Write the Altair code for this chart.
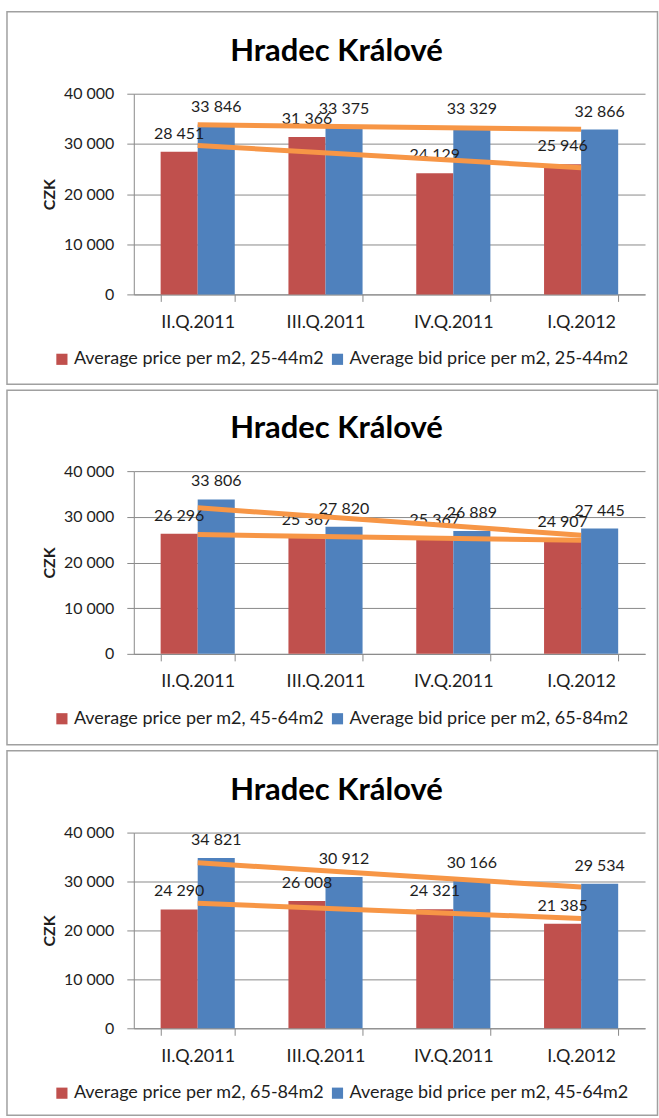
import altair as alt
import numpy as np
import pandas as pd

# ---- data -----------------------------------------------------------------
QUARTERS = ["II.Q.2011", "III.Q.2011", "IV.Q.2011", "I.Q.2012"]
TITLE = "Hradec Králové"
Y_TITLE = "CZK"
Y_TICKS = [0, 10000, 20000, 30000, 40000]

P1_RED_NAME = "Average price per m2, 25-44m2"
P1_BLUE_NAME = "Average bid price per m2, 25-44m2"
P1_RED = [28451, 31366, 24129, 25946]
P1_BLUE = [33846, 33375, 33329, 32866]

P2_RED_NAME = "Average price per m2, 45-64m2"
P2_BLUE_NAME = "Average bid price per m2, 65-84m2"
P2_RED = [26296, 25367, 25367, 24907]
P2_BLUE = [33806, 27820, 26889, 27445]

P3_RED_NAME = "Average price per m2, 65-84m2"
P3_BLUE_NAME = "Average bid price per m2, 45-64m2"
P3_RED = [24290, 26008, 24321, 21385]
P3_BLUE = [34821, 30912, 30166, 29534]

# ---- styling --------------------------------------------------------------
RED = "#C0504D"
BLUE = "#4F81BD"
ORANGE = "#F79646"
GRID = "#8a8a8a"
FRAME = "#a0a0a0"
TEXT = "#1e1e1e"
FONT = "Lato"
SPACE_FMT = "replace(format(datum.value, ','), ',', ' ')"


def panel(red_name, blue_name, red, blue, height, pad_top, pad_bottom):
    series = [red_name, blue_name]
    bars_df = pd.DataFrame({
        "quarter": QUARTERS * 2,
        "series": [red_name] * len(QUARTERS) + [blue_name] * len(QUARTERS),
        "value": red + blue,
    })

    # linear trend of each series across the quarters (Excel-style trendline)
    idx = np.arange(len(QUARTERS))
    rows = []
    for name, vals in ((red_name, red), (blue_name, blue)):
        slope, icpt = np.polyfit(idx, vals, 1)
        for i in (0, len(QUARTERS) - 1):
            rows.append({"quarter": QUARTERS[i], "series": name,
                         "value": float(slope * i + icpt)})
    trend_df = pd.DataFrame(rows)

    x = alt.X(
        "quarter:N", sort=QUARTERS, title=None,
        scale=alt.Scale(paddingInner=0.42, paddingOuter=0.21),
        axis=alt.Axis(labelAngle=0, tickBand="extent", tickSize=7,
                      tickColor=GRID, domainColor=GRID, labelPadding=12,
                      labelFontSize=18, labelColor=TEXT, labelFont=FONT,
                      grid=False),
    )
    y = alt.Y(
        "value:Q", title=Y_TITLE,
        scale=alt.Scale(domain=[0, 40000], nice=False),
        axis=alt.Axis(values=Y_TICKS, labelExpr=SPACE_FMT, tickSize=7,
                      tickColor=GRID, domainColor=GRID, gridColor=GRID,
                      labelPadding=13, labelFontSize=16, labelColor=TEXT,
                      labelFont=FONT, titleFont=FONT, titleFontSize=16,
                      titleFontWeight="bold", titleColor=TEXT,
                      titlePadding=6),
    )
    xoff = alt.XOffset("series:N", sort=series,
                       scale=alt.Scale(domain=series))

    one = pd.DataFrame({"title": [TITLE]})

    frame = alt.Chart(one).mark_rect(
        filled=False, stroke=FRAME, strokeWidth=1.5
    ).encode(
        x=alt.value(-127), x2=alt.value(524.5),
        y=alt.value(-pad_top), y2=alt.value(height + pad_bottom),
    )

    title = alt.Chart(one).mark_text(
        font=FONT, fontSize=31, fontWeight="bold", color="#000000",
        align="center", baseline="alphabetic",
    ).encode(x=alt.value(203), y=alt.value(-33), text="title:N")

    bars = alt.Chart(bars_df).mark_bar().encode(
        x=x, y=y, xOffset=xoff,
        color=alt.Color(
            "series:N", sort=series,
            scale=alt.Scale(domain=series, range=[RED, BLUE]),
            legend=alt.Legend(
                title=None, orient="none", direction="horizontal",
                legendX=-81, legendY=height + 56, symbolType="square",
                symbolSize=125, symbolStrokeWidth=0, labelFontSize=18,
                labelFont=FONT, labelColor=TEXT, columnPadding=4,
                padding=0, labelOffset=3, labelLimit=0,
            ),
        ),
    )

    labels = alt.Chart(bars_df).transform_calculate(
        label="replace(format(datum.value, ','), ',', ' ')"
    ).mark_text(
        font=FONT, fontSize=16, color=TEXT, baseline="bottom", dy=-10,
    ).encode(x=x, y=y, xOffset=xoff, text="label:N")

    trend = alt.Chart(trend_df).mark_line(
        color=ORANGE, strokeWidth=5
    ).encode(x=x, y=y, detail="series:N")

    return alt.layer(frame, bars, labels, trend, title).properties(
        width=512, height=height
    )


p1 = panel(P1_RED_NAME, P1_BLUE_NAME, P1_RED, P1_BLUE, 201, 82, 90)
p2 = panel(P2_RED_NAME, P2_BLUE_NAME, P2_RED, P2_BLUE, 183, 81, 91)
p3 = panel(P3_RED_NAME, P3_BLUE_NAME, P3_RED, P3_BLUE, 196, 82, 87)

chart = alt.vconcat(p1, p2, p3, spacing=4).resolve_scale(
    color="independent", xOffset="independent", y="independent",
    x="independent",
).properties(
    padding={"left": 6, "top": 10, "right": 0, "bottom": 0},
    background="white",
).configure_view(strokeWidth=0)

chart.save("out.html", embed_options={"renderer": "svg", "actions": False})
